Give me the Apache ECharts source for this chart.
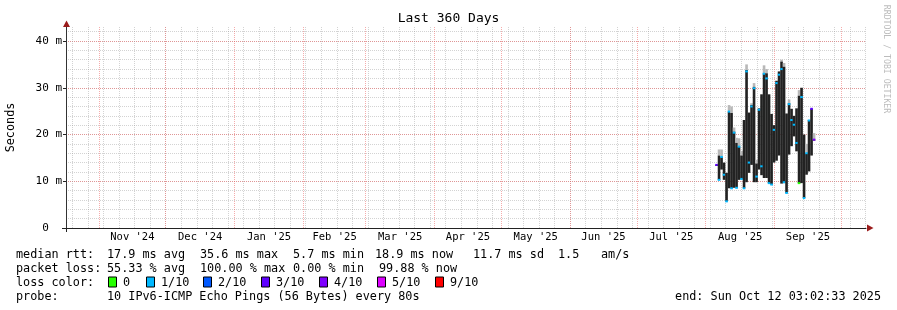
<!DOCTYPE html>
<html><head><meta charset="utf-8">
<script src="https://cdn.jsdelivr.net/npm/echarts@6/dist/echarts.min.js"></script>
<style>html,body{margin:0;padding:0;background:#fff;}#c{width:897px;height:310px;}</style>
</head><body><div id="c"></div>
<script>
// ---------- data ----------
var times = ['2025-08-05 21:00','2025-08-07 00:00','2025-08-08 03:00','2025-08-09 06:00','2025-08-10 09:00','2025-08-11 12:00','2025-08-12 15:00','2025-08-13 18:00','2025-08-14 21:00','2025-08-16 00:00','2025-08-17 03:00','2025-08-18 06:00','2025-08-19 09:00','2025-08-20 12:00','2025-08-21 15:00','2025-08-22 18:00','2025-08-23 21:00','2025-08-25 00:00','2025-08-26 03:00','2025-08-27 06:00','2025-08-28 09:00','2025-08-29 12:00','2025-08-30 15:00','2025-08-31 18:00','2025-09-01 21:00','2025-09-03 00:00','2025-09-04 03:00','2025-09-05 06:00','2025-09-06 09:00','2025-09-07 12:00','2025-09-08 15:00','2025-09-09 18:00','2025-09-10 21:00','2025-09-12 00:00','2025-09-13 03:00','2025-09-14 06:00','2025-09-15 09:00','2025-09-16 12:00','2025-09-17 15:00','2025-09-18 18:00'];
var lows    = [13.5,10.3,12.5,10.3,5.7,8.5,8.5,8.6,8.6,10.3,10.5,8.5,9.8,11.8,13.5,9.8,9.8,12.5,11.3,10.7,10.7,9.6,9.3,14.0,14.4,15.5,9.5,9.6,7.5,15.7,17.5,19.6,16.4,9.6,9.6,6.4,11.4,12.1,15.5,18.9];
var highs   = [13.5,15.5,15.2,14.0,11.8,24.9,24.6,20.6,18.2,17.4,15.5,23.1,33.8,24.7,26.3,30.2,13.8,25.6,28.6,33.1,33.1,28.6,24.4,22.0,31.5,33.5,35.6,34.5,24.5,26.7,25.5,24.0,25.6,28.3,30.0,20.0,16.0,23.1,25.5,18.9];
var caps    = [13.5,16.8,16.8,14.0,11.8,26.3,26.0,21.5,19.3,19.2,16.5,23.1,35.0,24.7,26.7,31.0,14.6,25.6,28.6,34.8,34.0,28.6,24.4,22.0,31.5,33.5,36.0,35.3,24.5,27.5,25.5,24.0,25.6,29.5,30.0,20.0,18.0,23.1,25.5,20.3];
var medians = [13.5,10.3,15.2,11.4,5.7,24.9,8.5,20.4,8.6,17.4,10.5,8.5,33.5,14.0,26.0,29.9,11.0,25.3,13.2,33.0,32.0,9.6,9.3,21.0,31.0,32.8,34.0,9.8,7.5,26.5,23.1,22.1,18.2,9.6,28.0,6.4,16.0,23.0,25.5,18.9];
var lossIdx = [3,1,1,1,1,1,1,1,1,1,1,1,1,1,1,1,1,1,1,1,1,1,1,1,1,1,1,1,1,1,1,1,1,0,1,1,1,1,3,4];

var lossColors = ['#26ff00','#00b8ff','#0059ff','#5e00ff','#7e00ff','#dd00ff','#ff0000'];
var lossLabels = ['0','1/10','2/10','3/10','4/10','5/10','9/10'];

var monthLabels = ["Nov '24","Dec '24","Jan '25","Feb '25","Mar '25","Apr '25","May '25","Jun '25","Jul '25","Aug '25","Sep '25"];
var monthLabelTimes = ['2024-11-16 00:00','2024-12-16 12:00','2025-01-16 12:00','2025-02-15 00:00','2025-03-16 12:00','2025-04-16 00:00','2025-05-16 12:00','2025-06-16 00:00','2025-07-16 12:00','2025-08-16 12:00','2025-09-16 00:00'];
var monthStarts = ['2024-11-01','2024-12-01','2025-01-01','2025-02-01','2025-03-01','2025-04-01','2025-05-01','2025-06-01','2025-07-01','2025-08-01','2025-09-01','2025-10-01'];
var firstSunday = '2024-10-20';
var xStart = '2024-10-17 03:02:33', xEnd = '2025-10-12 03:02:33';

var yMin = 0, yMax = 43;
var yTickValues = [0,10,20,30,40];
var yTickLabels = ['0  ','10 m','20 m','30 m','40 m'];
var yMinorStep = 2;

var titleText = 'Last 360 Days';
var yName = 'Seconds';
var creditText = 'RRDTOOL / TOBI OETIKER';
var medianRow = ['median rtt:','17.9 ms avg','35.6 ms max','5.7 ms min','18.9 ms now','11.7 ms sd','1.5','am/s'];
var lossRow = ['packet loss:','55.33 % avg','100.00 % max','0.00 % min','99.88 % now'];
var lossColorTitle = 'loss color:';
var probeRow = ['probe:','10 IPv6-ICMP Echo Pings (56 Bytes) every 80s'];
var endText = 'end: Sun Oct 12 03:02:33 2025';

// ---------- helpers ----------
function ts(s){
  var m = s.match(/(\d+)-(\d+)-(\d+)(?:[ T](\d+):(\d+)(?::(\d+))?)?/);
  return new Date(+m[1], +m[2]-1, +m[3], +(m[4]||0), +(m[5]||0), +(m[6]||0)).getTime();
}
var tMin = ts(xStart), tMax = ts(xEnd);
var monthStartTs = monthStarts.map(ts);
var labelTs = monthLabelTimes.map(ts);
var sundays = [];
(function(){ var d = new Date(ts(firstSunday)); while (d.getTime() < tMax) { sundays.push(d.getTime()); d.setDate(d.getDate()+7); } })();
var yMinor = [];
for (var v = yMinorStep; v < yMax; v += yMinorStep) yMinor.push(v);

var seriesData = times.map(function(t,i){ return [ts(t), lows[i], highs[i], caps[i], medians[i], lossIdx[i]]; });
var stepMs = ts(times[2]) - ts(times[1]);

var FONT = 'DejaVu Sans Mono';
var MINOR = 'rgba(150,150,150,0.42)';
var MAJOR = 'rgba(235,90,90,0.5)';

// ---------- graphics (texts, legend) ----------
var g = [];
function T(x,y,s,o){ o=o||{}; g.push({type:'text', x:x, y:y, rotation:o.rot||0, silent:true,
  style:{text:s, fill:o.color||'#000', font:(o.size||11.8)+'px "'+FONT+'"', align:o.align||'left', verticalAlign:'middle'}}); }
var rowY = [254.5, 268.5, 282.5, 296.5];
var medX = [16,107,200,293,375,473,558,601];
medianRow.forEach(function(s,i){ T(medX[i], rowY[0], s); });
var lossX = [16,107,200,293,379];
lossRow.forEach(function(s,i){ T(lossX[i], rowY[1], s); });
T(16, rowY[2], lossColorTitle);
var boxX = [108,146,203,261,319,377,435];
lossLabels.forEach(function(s,i){
  g.push({type:'rect', silent:true, shape:{x:boxX[i]+0.5, y:rowY[2]-5.5, width:8, height:10}, style:{fill:lossColors[i], stroke:'#000', lineWidth:1}});
  T(boxX[i]+15, rowY[2], s);
});
T(16, rowY[3], probeRow[0]); T(107, rowY[3], probeRow[1]);
T(881, rowY[3], endText, {align:'right'});
T(11, 127.5, yName, {rot:Math.PI/2, align:'center'});
T(886, 59, creditText, {rot:-Math.PI/2, align:'center', color:'#bcbcbc', size:8.2});
g.push({type:'polygon', silent:true, z:100, shape:{points:[[63,27],[70,27],[66.5,20.5]]}, style:{fill:'#9b1c1c'}});
g.push({type:'polygon', silent:true, z:100, shape:{points:[[867,224.5],[867,231.5],[873.5,228]]}, style:{fill:'#9b1c1c'}});
g.push({type:'line', silent:true, shape:{x1:62,y1:228.5,x2:66,y2:228.5}, style:{stroke:'#222',lineWidth:1}});
g.push({type:'line', silent:true, shape:{x1:66.5,y1:228,x2:66.5,y2:232}, style:{stroke:'#222',lineWidth:1}});

// ---------- chart ----------
var chart = echarts.init(document.getElementById('c'), null, {renderer:'canvas'});
chart.setOption({
  animation:false,
  backgroundColor:'#fff',
  title:{text:titleText, left:'center', top:12, padding:0, textStyle:{fontFamily:FONT, fontSize:13, fontWeight:'normal', color:'#000'}},
  grid:{left:66, top:27, width:800, height:201, containLabel:false},
  xAxis:[
    {type:'value', min:tMin, max:tMax, gridIndex:0, position:'bottom', scale:true,
     axisLine:{show:false}, axisLabel:{show:false}, axisTick:{show:false, customValues:sundays},
     splitLine:{show:true, lineStyle:{color:MINOR, width:1, type:[1,1]}}},
    {type:'value', min:tMin, max:tMax, gridIndex:0, position:'bottom', scale:true,
     axisLine:{show:true, onZero:false, lineStyle:{color:'#222', width:1}},
     axisTick:{show:false, customValues:monthStartTs},
     axisLabel:{show:true, customValues:labelTs, margin:4, hideOverlap:false,
       fontFamily:FONT, fontSize:10.5, color:'#000',
       formatter:function(v){ var best=-1,bd=Infinity; labelTs.forEach(function(t,i){var d=Math.abs(t-v); if(d<bd){bd=d;best=i;}}); return monthLabels[best]; }},
     splitLine:{show:true, lineStyle:{color:MAJOR, width:1, type:[1,1]}}}
  ],
  yAxis:[
    {type:'value', min:yMin, max:yMax, position:'left',
     axisLine:{show:false}, axisLabel:{show:false}, axisTick:{show:false, customValues:yMinor},
     splitLine:{show:true, lineStyle:{color:MINOR, width:1, type:[1,1]}}},
    {type:'value', min:yMin, max:yMax, position:'left',
     axisLine:{show:true, lineStyle:{color:'#333', width:1}},
     axisTick:{show:true, length:3, customValues:yTickValues, lineStyle:{color:'#222'}},
     axisLabel:{show:true, customValues:yTickValues, margin:4, fontFamily:FONT, fontSize:11, color:'#000',
       formatter:function(v){ var i=yTickValues.indexOf(Math.round(v)); return i>=0?yTickLabels[i]:''; }},
     splitLine:{show:true, lineStyle:{color:MAJOR, width:1, type:[1,1]}}}
  ],
  graphic:g,
  series:[{
    type:'custom', xAxisIndex:1, yAxisIndex:1, z:5, silent:true,
    data:seriesData,
    renderItem:function(params, api){
      var t=api.value(0), lo=api.value(1), hi=api.value(2), cap=api.value(3), med=api.value(4), ci=api.value(5);
      var pLo=api.coord([t,lo]), pHi=api.coord([t,hi]), pCap=api.coord([t,cap]), pMed=api.coord([t,med]);
      var w=api.size([stepMs,0])[0]*1.05;
      var x=pLo[0]-w/2;
      return {type:'group', children:[
        {type:'rect', shape:{x:x, y:pCap[1], width:w, height:Math.max(0,pHi[1]-pCap[1])}, style:{fill:'#b8b8b8'}},
        {type:'rect', shape:{x:x, y:pHi[1], width:w, height:Math.max(1,pLo[1]-pHi[1])}, style:{fill:'#222222'}},
        {type:'rect', shape:{x:x, y:pMed[1]-1, width:w, height:2}, style:{fill:lossColors[ci]}}
      ]};
    }
  }]
});
</script>
</body></html>
